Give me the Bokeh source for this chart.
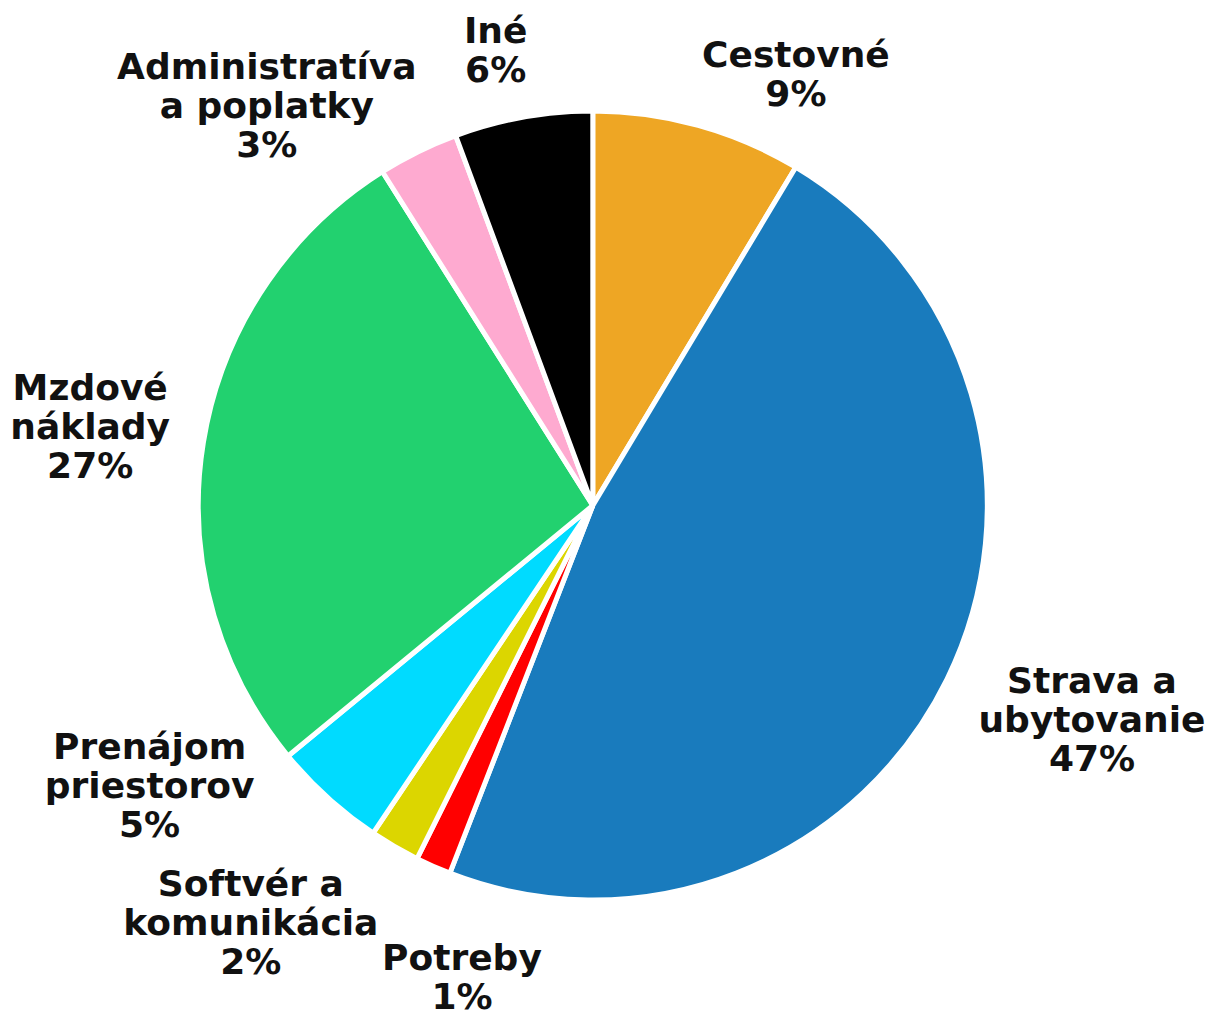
import math
from bokeh.plotting import figure
from bokeh.models import Range1d, ColumnDataSource
from bokeh.embed import file_html
from bokeh.resources import INLINE
from bokeh.core.properties import value

# ---- data ----
categories = [
    "Cestovné",
    "Strava a\nubytovanie",
    "Potreby",
    "Softvér a\nkomunikácia",
    "Prenájom\npriestorov",
    "Mzdové\nnáklady",
    "Administratíva\na poplatky",
    "Iné",
]
shares = [8.6, 47.3, 1.45, 2.05, 4.65, 27.0, 3.3, 5.65]
colors = ["#EEA624", "#197BBD", "#FF0000", "#DCD600", "#00DBFF", "#22D16F", "#FEAAD0", "#000000"]

# ---- layout ----
W, H = 1208, 1018
CX, CY = 592.3, 513.0          # pie centre (data units = pixels)
RADIUS = 394.5                  # incl. half of the white border
ANCHOR_R = 420                  # label anchor radius
# label block nudges from the anchor (dx, dy), pixels, y up
nudges = [(91, 27), (122, -29), (39, -87), (-131, -54), (-161, 31), (-88, 12), (-140, 23), (-23, 42)]
LINE_PITCH = 39

total = sum(shares)
starts, ends, mids = [], [], []
cum = 0.0
for s in shares:
    a0 = cum / total * 2 * math.pi
    cum += s
    a1 = cum / total * 2 * math.pi
    starts.append(math.pi / 2 - a0)
    ends.append(math.pi / 2 - a1)
    mids.append((a0 + a1) / 2)

wedges = ColumnDataSource(dict(start=starts, end=ends, color=colors))

p = figure(width=W, height=H, x_range=Range1d(0, W), y_range=Range1d(0, H),
           output_backend="svg", toolbar_location=None, min_border=0,
           outline_line_color=None)
p.axis.visible = False
p.grid.visible = False
p.background_fill_color = "white"
p.border_fill_color = "white"

p.wedge(x=CX, y=CY, radius=RADIUS, radius_units="screen",
        start_angle="start", end_angle="end", direction="clock",
        fill_color="color", line_color="white", line_width=5, source=wedges)

lx, ly, lt = [], [], []
for cat, s, m, (dx, dy) in zip(categories, shares, mids, nudges):
    pct = int(math.floor(s / total * 100 + 0.5))
    lines = cat.split("\n") + [f"{pct}%"]
    bx = CX + ANCHOR_R * math.sin(m) + dx
    by = CY + ANCHOR_R * math.cos(m) + dy
    n = len(lines)
    for i, line in enumerate(lines):
        lx.append(bx)
        ly.append(by + ((n - 1) / 2 - i) * LINE_PITCH)
        lt.append(line)

p.text(x=lx, y=ly, text=lt, text_font=value("DejaVu Sans"), text_font_style="bold",
       text_font_size="36px", text_align="center", text_baseline="middle",
       text_color="#111111")

open("out.html", "w").write(file_html(p, INLINE))
